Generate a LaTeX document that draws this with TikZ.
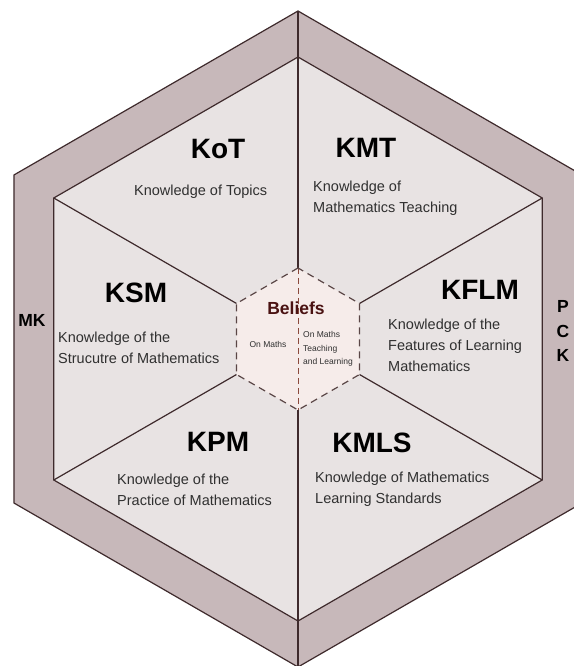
\documentclass[tikz,border=0pt]{standalone}
\usepackage{fontspec}
\setmainfont{Liberation Sans}
\usetikzlibrary{calc}
\definecolor{bandfill}{HTML}{C7B8BA}
\definecolor{facefill}{HTML}{E8E3E3}
\definecolor{corefill}{HTML}{F6ECEA}
\definecolor{edgecol}{HTML}{3E2A2C}
\definecolor{dashcol}{HTML}{5A4646}
\definecolor{splitcol}{HTML}{8A4A3C}
\definecolor{beliefcol}{HTML}{4A1212}
\definecolor{desccol}{HTML}{303030}
\tikzset{
  edge/.style={draw=edgecol, line width=1.2pt, line join=miter},
  coreedge/.style={draw=dashcol, line width=1.2pt, dash pattern=on 7pt off 5pt},
  splitline/.style={draw=splitcol, line width=1pt, dash pattern=on 6pt off 4pt},
  title/.style={inner sep=0pt, anchor=base, text=black, font=\fontsize{28}{30}\selectfont\bfseries},
  side/.style={inner sep=0pt, anchor=base, text=black, font=\fontsize{17.5}{20}\selectfont\bfseries},
  desc/.style={inner sep=0pt, anchor=base west, align=left, text=desccol, font=\fontsize{14.5}{21}\selectfont},
  small/.style={inner sep=0pt, align=left, text=desccol, font=\fontsize{8.5}{13.5}\selectfont},
}
\begin{document}
\begin{tikzpicture}[x=1pt, y=1pt]
  \useasboundingbox (0,0) rectangle (573,666);
  \fill[white] (0,0) rectangle (573,666);
  \coordinate (c) at (298,327);
  % outer band (o*), knowledge face (i*) and beliefs core (b*) corners
  \foreach \a/\n in {90/t,150/tl,210/bl,270/b,330/br,30/tr}{
    \coordinate (o\n) at ($(c)+(\a:328)$);
    \coordinate (i\n) at ($(c)+(\a:282)$);
    \coordinate (b\n) at ($(c)+(\a:71)$);
  }
  % MK / PCK band
  \path[edge, fill=bandfill] (ot) -- (otl) -- (obl) -- (ob) -- (obr) -- (otr) -- cycle;
  % knowledge face
  \path[edge, fill=facefill] (it) -- (itl) -- (ibl) -- (ib) -- (ibr) -- (itr) -- cycle;
  \draw[edge] (ot) -- (it);
  \draw[edge] (ob) -- (ib);
  % spokes between the six subdomains
  \foreach \n in {t,tl,bl,b,br,tr}{
    \draw[edge] (b\n) -- (i\n);
  }
  % beliefs core
  \path[fill=corefill] (bt) -- (btl) -- (bbl) -- (bb) -- (bbr) -- (btr) -- cycle;
  \draw[splitline] (bt) -- (bb);
  \draw[coreedge] (bt) -- (btl) -- (bbl) -- (bb) -- (bbr) -- (btr) -- cycle;

  % subdomain titles
  \node[title] (kot) at (218,507) {KoT};
  \node[title] (kmt) at (366,508) {KMT};
  \node[title] (ksm) at (136,363) {KSM};
  \node[title] (kflm) at (480,366) {KFLM};
  \node[title] (kpm) at (218,214) {KPM};
  \node[title] (kmls) at (372,213) {KMLS};

  % subdomain descriptions (anchored on the baseline of their last line)
  \node[desc] (dkot) at (134,470) {Knowledge of Topics};
  \node[desc] (dkmt) at (313,453) {Knowledge of\\Mathematics Teaching};
  \node[desc] (dksm) at (58,302) {Knowledge of the\\Strucutre of Mathematics};
  \node[desc] (dkflm) at (388,294) {Knowledge of the\\Features of Learning\\Mathematics};
  \node[desc] (dkpm) at (117,160) {Knowledge of the\\Practice of Mathematics};
  \node[desc] (dkmls) at (315,162) {Knowledge of Mathematics\\Learning Standards};

  % domain labels on the band
  \node[side] (mk) at (32,339) {MK};
  \node[side] (p) at (563,353) {P};
  \node[side] (cc) at (563,328) {C};
  \node[side] (k) at (563,304) {K};

  % beliefs
  \node[inner sep=0pt, anchor=base, text=beliefcol, font=\fontsize{17.5}{20}\selectfont\bfseries] (bel) at (296,351) {Beliefs};
  \node[small, anchor=base] (onm) at (268,318) {On Maths};
  \node[small, anchor=base west] (onmt) at (303,301) {On Maths\\Teaching\\and Learning};
\end{tikzpicture}
\end{document}
